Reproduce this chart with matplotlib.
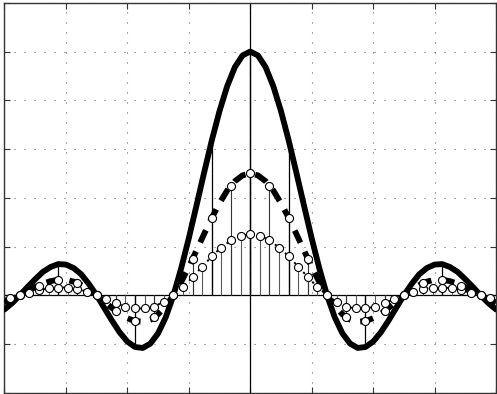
import numpy as np
import matplotlib
matplotlib.use("Agg")
import matplotlib.pyplot as plt

# continuous envelopes, read at t = -32 ... 32 (step 1)
t_env = np.arange(-32, 33, 1)
env_solid = [-0.29, -0.16, 0.00, 0.17, 0.33, 0.48, 0.58, 0.64, 0.63, 0.56, 0.43, 0.23,
             0.00, -0.26, -0.52, -0.76, -0.95, -1.06, -1.08, -0.99, -0.78, -0.45,
             0.00, 0.55, 1.17, 1.84, 2.52, 3.18, 3.78, 4.29, 4.68, 4.92,
             5.00,
             4.92, 4.68, 4.29, 3.78, 3.18, 2.52, 1.84, 1.17, 0.55, 0.00,
             -0.45, -0.78, -0.99, -1.08, -1.06, -0.95, -0.76, -0.52, -0.26, 0.00,
             0.23, 0.43, 0.56, 0.63, 0.64, 0.58, 0.48, 0.33, 0.17, 0.00, -0.16, -0.29]
env_dashed = [-0.15, -0.08, 0.00, 0.08, 0.17, 0.24, 0.29, 0.32, 0.32, 0.28, 0.21, 0.12,
              0.00, -0.13, -0.26, -0.38, -0.47, -0.53, -0.54, -0.50, -0.39, -0.22,
              0.00, 0.27, 0.58, 0.92, 1.26, 1.59, 1.89, 2.15, 2.34, 2.46,
              2.50,
              2.46, 2.34, 2.15, 1.89, 1.59, 1.26, 0.92, 0.58, 0.27, 0.00,
              -0.22, -0.39, -0.50, -0.54, -0.53, -0.47, -0.38, -0.26, -0.13, 0.00,
              0.12, 0.21, 0.28, 0.32, 0.32, 0.29, 0.24, 0.17, 0.08, 0.00, -0.08, -0.15]
env_dotted = [-0.07, -0.04, 0.00, 0.04, 0.08, 0.12, 0.15, 0.16, 0.16, 0.14, 0.11, 0.06,
              0.00, -0.06, -0.13, -0.19, -0.24, -0.27, -0.27, -0.25, -0.19, -0.11,
              0.00, 0.14, 0.29, 0.46, 0.63, 0.80, 0.95, 1.07, 1.17, 1.23,
              1.25,
              1.23, 1.17, 1.07, 0.95, 0.80, 0.63, 0.46, 0.29, 0.14, 0.00,
              -0.11, -0.19, -0.25, -0.27, -0.27, -0.24, -0.19, -0.13, -0.06, 0.00,
              0.06, 0.11, 0.14, 0.16, 0.16, 0.15, 0.12, 0.08, 0.04, 0.00, -0.04, -0.07]

# sampled sequences
t_a = np.arange(-30, 31, 5)
x_a = [0, 0.64, 0, -1.06, 0, 3.18, 5.00, 3.18, 0, -1.06, 0, 0.64, 0]

t_b = np.arange(-30, 30.1, 2.5)
x_b = [0, 0.20, 0.32, 0.25, 0, -0.32, -0.53, -0.45, 0, 0.75, 1.59, 2.25,
       2.50,
       2.25, 1.59, 0.75, 0, -0.45, -0.53, -0.32, 0, 0.25, 0.32, 0.20, 0]

t_c = np.arange(-31.25, 31.3, 1.25)
x_c = [-0.05, 0, 0.05, 0.10, 0.14, 0.16, 0.15, 0.13, 0.07, 0, -0.08, -0.16, -0.23,
       -0.27, -0.27, -0.23, -0.14, 0, 0.17, 0.38, 0.59, 0.80, 0.98, 1.13, 1.22,
       1.25,
       1.22, 1.13, 0.98, 0.80, 0.59, 0.38, 0.17, 0, -0.14, -0.23, -0.27, -0.27,
       -0.23, -0.16, -0.08, 0, 0.07, 0.13, 0.15, 0.16, 0.14, 0.10, 0.05, 0, -0.05]

fig = plt.figure(figsize=(4.97, 3.94), dpi=100)
ax = fig.add_axes([0.009, 0.003, 0.989, 0.990])

ax.axhline(0, color="black", lw=0.9, zorder=2)
ax.axvline(0, color="black", lw=0.9, zorder=2)

# stems
ax.vlines(t_c, 0, x_c, color="0.35", lw=0.8, zorder=2)
ax.vlines(t_b, 0, x_b, color="0.2", lw=0.8, zorder=2)
ax.vlines(t_a, 0, x_a, color="black", lw=0.9, zorder=2)

# envelopes
ax.plot(t_env, env_dotted, color="black", lw=1.4, dashes=(1.2, 2.2), zorder=3)
ax.plot(t_env, env_dashed, color="black", lw=4.2, dashes=(2.3, 1.7), zorder=3)
ax.plot(t_env, env_solid, color="black", lw=4.2, solid_capstyle="round", zorder=4)

ax.plot(t_c, x_c, "o", ms=5.8, mfc="white", mec="black", mew=0.8, zorder=5)
ax.plot(t_b, x_b, "o", ms=5.8, mfc="white", mec="black", mew=0.8, zorder=5)

ax.set_xlim(-32, 32)
ax.set_ylim(-2, 6)
ax.set_xticks(np.arange(-32, 33, 8))
ax.set_yticks(np.arange(-2, 7, 1))
ax.set_xticklabels([])
ax.set_yticklabels([])
ax.tick_params(direction="in", length=4, width=0.8, top=True, right=True, color="0.2")
ax.grid(True, color="0.4", lw=0.8, linestyle=(0, (1, 8)))
for s in ax.spines.values():
    s.set_linewidth(1.0)
    s.set_color("0.2")

fig.savefig("out.png", dpi=100)
